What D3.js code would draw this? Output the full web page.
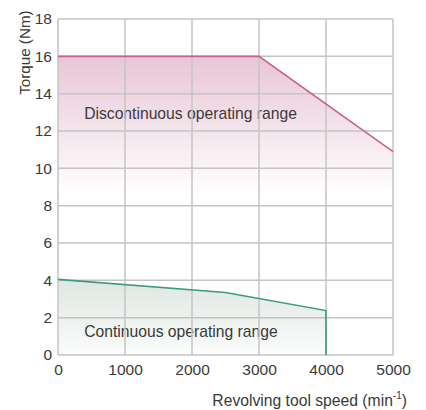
<!DOCTYPE html>
<html>
<head>
<meta charset="utf-8">
<script src="https://cdn.jsdelivr.net/npm/d3@7"></script>
<style>
  body { margin: 0; background: #fff; }
  svg text { font-family: "Liberation Sans", Arial, sans-serif; fill: #3a3a3a; }
</style>
</head>
<body>
<div class="svg-container"></div>
<script>
// data
const xTicks = [0, 1000, 2000, 3000, 4000, 5000];
const yTicks = [0, 2, 4, 6, 8, 10, 12, 14, 16, 18];
const discSpeed = [0, 3000, 5000];
const discTorque = [16, 16, 10.9];
const contSpeed = [0, 2500, 4000, 4000];
const contTorque = [4.05, 3.35, 2.38, 0];
const discLabel = "Discontinuous operating range";
const contLabel = "Continuous operating range";

const width = 426, height = 410;
const margin = {top: 19, right: 33, bottom: 55, left: 58};

const svg = d3.select(".svg-container").append("svg")
  .attr("width", width)
  .attr("height", height);

const xScale = d3.scaleLinear().domain([0, 5000]).range([margin.left, width - margin.right]);
const yScale = d3.scaleLinear().domain([0, 18]).range([height - margin.bottom, margin.top]);

const defs = svg.append("defs");
const pinkGrad = defs.append("linearGradient")
  .attr("id", "pinkGrad").attr("gradientUnits", "userSpaceOnUse")
  .attr("x1", 0).attr("x2", 0).attr("y1", yScale(16)).attr("y2", yScale(8.6));
pinkGrad.append("stop").attr("offset", 0).attr("stop-color", "#e8c6d6");
pinkGrad.append("stop").attr("offset", 1).attr("stop-color", "#ffffff");

const greenGrad = defs.append("linearGradient")
  .attr("id", "greenGrad").attr("gradientUnits", "userSpaceOnUse")
  .attr("x1", 0).attr("x2", 0).attr("y1", yScale(4)).attr("y2", yScale(0));
greenGrad.append("stop").attr("offset", 0).attr("stop-color", "#dfe7e1");
greenGrad.append("stop").attr("offset", 1).attr("stop-color", "#fbfcfb");

const disc = discSpeed.map((s, i) => ({s: s, t: discTorque[i]}));
const cont = contSpeed.map((s, i) => ({s: s, t: contTorque[i]}));

// fills
const area = d3.area()
  .x(d => xScale(d.s))
  .y0(yScale(0))
  .y1(d => yScale(d.t));

svg.append("path").datum(disc)
  .attr("d", area)
  .style("fill", "url(#pinkGrad)");

svg.append("path").datum(cont)
  .attr("d", area)
  .style("fill", "url(#greenGrad)");

// labels (grid is drawn over them)
svg.append("text")
  .attr("x", xScale(390))
  .attr("y", yScale(12.95) + 5.5)
  .style("font-size", "15.7px")
  .text(discLabel);

svg.append("text")
  .attr("x", xScale(390))
  .attr("y", yScale(1.25) + 5.5)
  .style("font-size", "15.7px")
  .text(contLabel);

// grid
const grid = svg.append("g").attr("class", "grid");
grid.selectAll("line.v").data(xTicks).enter().append("line")
  .attr("x1", d => xScale(d)).attr("x2", d => xScale(d))
  .attr("y1", yScale(0)).attr("y2", yScale(18))
  .style("stroke", "#c4c4c4").style("stroke-width", 1.5);
grid.selectAll("line.h").data(yTicks).enter().append("line")
  .attr("x1", xScale(0)).attr("x2", xScale(5000))
  .attr("y1", d => yScale(d)).attr("y2", d => yScale(d))
  .style("stroke", "#c4c4c4").style("stroke-width", 1.5);

// curves
const line = d3.line()
  .x(d => xScale(d.s))
  .y(d => yScale(d.t));

svg.append("path").datum(disc)
  .attr("d", line)
  .style("fill", "none")
  .style("stroke", "#c9618e")
  .style("stroke-width", 1.6);

svg.append("path").datum(cont)
  .attr("d", line)
  .style("fill", "none")
  .style("stroke", "#3d9a80")
  .style("stroke-width", 1.6);

// axes
const xAxis = d3.axisBottom(xScale).tickValues(xTicks).tickFormat(d3.format("d")).tickSize(0).tickPadding(9);
const yAxis = d3.axisLeft(yScale).tickValues(yTicks).tickFormat(d3.format("d")).tickSize(0).tickPadding(6);

const gx = svg.append("g")
  .attr("transform", `translate(0, ${yScale(0)})`)
  .call(xAxis);
const gy = svg.append("g")
  .attr("transform", `translate(${xScale(0)}, 0)`)
  .call(yAxis);
[gx, gy].forEach(g => {
  g.select(".domain").remove();
  g.selectAll("text")
    .style("font-size", "15.5px")
    .style("font-family", "\"Liberation Sans\", Arial, sans-serif")
    .style("fill", "#3a3a3a");
});

svg.append("text")
  .attr("transform", `translate(30, ${yScale(16.2)}) rotate(-90)`)
  .style("text-anchor", "middle")
  .style("font-size", "15.2px")
  .text("Torque (Nm)");

const xt = svg.append("text")
  .attr("x", 407)
  .attr("y", 406)
  .style("text-anchor", "end")
  .style("font-size", "15.7px");
xt.append("tspan").text("Revolving tool speed (min");
xt.append("tspan").attr("dy", -7).style("font-size", "10px").text("-1");
xt.append("tspan").attr("dy", 7).text(")");
</script>
</body>
</html>
